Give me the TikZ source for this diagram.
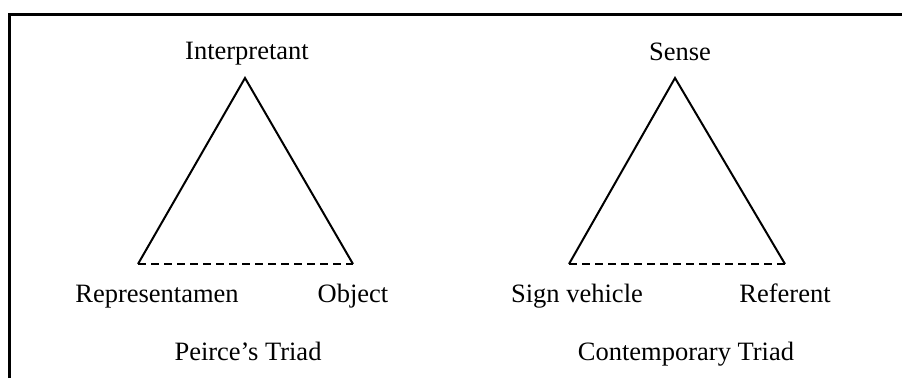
\documentclass[tikz,border=0pt]{standalone}
\usepackage{fontspec}
\setmainfont{Liberation Serif}
\begin{document}
\begin{tikzpicture}[x=1pt,y=-1pt,
    lbl/.style={anchor=base, inner sep=0pt, font=\fontsize{26.5}{30}\selectfont},
    side/.style={line width=2pt, line join=miter},
    basedash/.style={line width=2pt, dash pattern=on 8pt off 5pt}]
    \useasboundingbox (0,0) rectangle (902,378);

    % Frame
    \draw[line width=3pt] (9,378) -- (9,14) -- (902,14);

    % Peirce's triad
    \coordinate (interp) at (245,78);
    \coordinate (repr) at (138,264);
    \coordinate (obj) at (353,264);
    \draw[side] (repr) -- (interp) -- (obj);
    \draw[basedash] (repr) -- (obj);
    \node[lbl] (interpLbl) at (247,59) {Interpretant};
    \node[lbl] (reprLbl) at (157,302) {Representamen};
    \node[lbl] (objLbl) at (353,302) {Object};
    \node[lbl] (peirceLbl) at (248,360) {Peirce's Triad};

    % Contemporary triad
    \coordinate (sense) at (675,78);
    \coordinate (sign) at (569,264);
    \coordinate (refr) at (785,264);
    \draw[side] (sign) -- (sense) -- (refr);
    \draw[basedash] (sign) -- (refr);
    \node[lbl] (senseLbl) at (680,60) {Sense};
    \node[lbl] (signLbl) at (577,302) {Sign vehicle};
    \node[lbl] (refrLbl) at (785,302) {Referent};
    \node[lbl] (contempLbl) at (686,360) {Contemporary Triad};
\end{tikzpicture}
\end{document}
